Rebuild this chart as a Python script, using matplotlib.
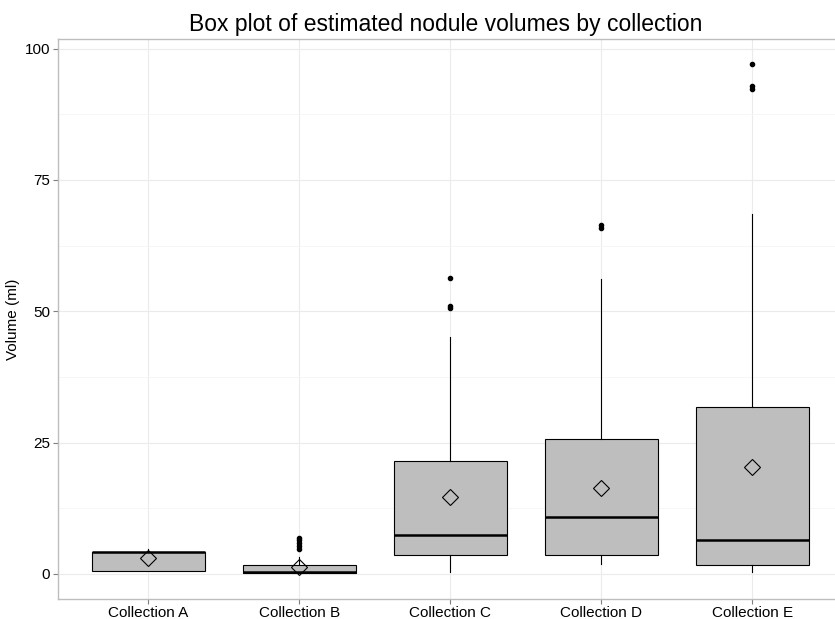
import matplotlib
matplotlib.use("Agg")
import matplotlib.pyplot as plt

plt.rcParams["font.family"] = ["Liberation Sans", "DejaVu Sans"]

# Box statistics (ml)
collections = ["Collection A", "Collection B", "Collection C", "Collection D", "Collection E"]
whisker_low = [0.6, 0.1, 0.4, 1.9, 0.4]
q1 = [0.6, 0.2, 3.6, 3.6, 1.7]
medians = [4.2, 0.4, 7.3, 10.8, 6.5]
q3 = [4.2, 1.6, 21.5, 25.7, 31.7]
whisker_high = [4.8, 3.2, 45.1, 56.2, 68.6]
means = [3.0, 1.3, 14.6, 16.3, 20.3]
outliers = [
    [],
    [4.7, 5.3, 5.9, 6.4, 6.9],
    [50.6, 51.0, 56.3],
    [65.8, 66.4],
    [92.3, 92.9, 97.0],
]

stats = []
for i, name in enumerate(collections):
    stats.append({
        "label": name,
        "whislo": whisker_low[i],
        "q1": q1[i],
        "med": medians[i],
        "q3": q3[i],
        "whishi": whisker_high[i],
        "mean": means[i],
        "fliers": outliers[i],
    })

fig = plt.figure(figsize=(8.35, 6.19), dpi=100)
# panel runs a little past the right edge, like the original
ax = fig.add_axes([57.7 / 835, 1 - 599.3 / 619, 785.3 / 835, 560.3 / 619])

positions = list(range(1, len(collections) + 1))
ax.bxp(stats, positions=positions, widths=0.75, showmeans=True, patch_artist=True,
       boxprops=dict(facecolor="#bebebe", edgecolor="black", linewidth=0.8),
       medianprops=dict(color="black", linewidth=1.8),
       whiskerprops=dict(color="black", linewidth=0.8),
       capprops=dict(linewidth=0),
       meanprops=dict(marker="D", markerfacecolor="none", markeredgecolor="black",
                      markersize=8, markeredgewidth=0.8),
       flierprops=dict(marker="o", markerfacecolor="black", markeredgecolor="black",
                       markersize=3))

ax.set_xlim(0.4, 5.6)
ax.set_ylim(-4.85, 101.85)
ax.set_yticks([0, 25, 50, 75, 100])
ax.set_yticks([12.5, 37.5, 62.5, 87.5], minor=True)
ax.set_xticks(positions)
ax.set_xticklabels(collections)

ax.grid(True, which="major", color="#ebebeb", linewidth=0.8)
ax.grid(True, which="minor", axis="y", color="#f5f5f5", linewidth=0.6)
ax.set_axisbelow(True)
for sp in ax.spines.values():
    sp.set_color("#bdbdbd")
    sp.set_linewidth(1.0)
ax.tick_params(axis="both", which="major", colors="#7f7f7f", labelcolor="black",
               labelsize=11, length=3.5, pad=2)
ax.tick_params(axis="x", which="major", pad=1.5)
ax.tick_params(axis="y", which="minor", length=0)

ax.set_ylabel("Volume (ml)", fontsize=11, labelpad=3)
ax.set_title("Box plot of estimated nodule volumes by collection", fontsize=16.5, pad=6, x=0.494)

fig.savefig("out.png", dpi=100)
